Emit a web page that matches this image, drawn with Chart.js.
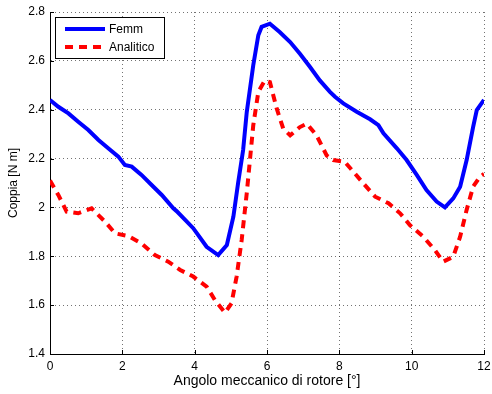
<!DOCTYPE html>
<html>
<head>
<meta charset="utf-8">
<script src="https://cdn.jsdelivr.net/npm/chart.js@4/dist/chart.umd.min.js"></script>
<style>
  html, body { margin: 0; padding: 0; background: #fff; }
  #wrap { width: 492px; height: 394px; position: relative; }
</style>
</head>
<body>
<div id="wrap"><canvas id="coppiaChart"></canvas></div>
<script>
// Values (angle in degrees, torque in N m)
const femmX = [0, 0.23, 0.51, 0.78, 1.06, 1.34, 1.61, 1.89, 2.07, 2.26, 2.53, 2.81, 3.09, 3.41, 3.5, 3.96, 4.33, 4.65, 4.89, 5.07, 5.2, 5.34, 5.44, 5.62, 5.76, 5.85, 6.08, 6.35, 6.64, 6.91, 7.19, 7.46, 7.74, 7.88, 8.11, 8.48, 8.85, 9.08, 9.22, 9.59, 9.86, 10.14, 10.41, 10.69, 10.92, 11.15, 11.34, 11.52, 11.7, 11.8, 12];
const femmY = [2.44, 2.412, 2.385, 2.351, 2.317, 2.276, 2.242, 2.208, 2.174, 2.167, 2.133, 2.092, 2.051, 1.996, 1.985, 1.915, 1.839, 1.805, 1.846, 1.962, 2.099, 2.235, 2.39, 2.582, 2.705, 2.739, 2.752, 2.718, 2.677, 2.629, 2.575, 2.52, 2.473, 2.453, 2.426, 2.392, 2.361, 2.337, 2.303, 2.242, 2.194, 2.133, 2.071, 2.024, 2.0, 2.037, 2.085, 2.194, 2.33, 2.399, 2.44];

const analX = [0, 0.23, 0.46, 0.78, 1.15, 1.52, 1.8, 2.16, 2.53, 2.9, 3.27, 3.6, 3.96, 4.33, 4.56, 4.84, 5.02, 5.16, 5.3, 5.44, 5.62, 5.76, 5.94, 6.08, 6.27, 6.45, 6.64, 6.91, 7.1, 7.37, 7.65, 7.83, 8.15, 8.66, 8.99, 9.36, 9.68, 9.95, 10.32, 10.64, 10.87, 11.15, 11.34, 11.52, 11.7, 11.89, 12];
const analY = [2.11, 2.051, 1.983, 1.976, 1.996, 1.942, 1.894, 1.883, 1.853, 1.805, 1.778, 1.744, 1.717, 1.676, 1.621, 1.569, 1.608, 1.717, 1.867, 2.058, 2.336, 2.473, 2.52, 2.513, 2.404, 2.322, 2.295, 2.329, 2.343, 2.295, 2.213, 2.194, 2.187, 2.099, 2.044, 2.017, 1.976, 1.928, 1.88, 1.826, 1.778, 1.798, 1.88, 1.99, 2.085, 2.126, 2.137];

const xTicks = [0, 2, 4, 6, 8, 10, 12];
const yTicks = [1.4, 1.6, 1.8, 2, 2.2, 2.4, 2.6, 2.8];

const FONT = "'Liberation Sans', Arial, sans-serif";

function toPoints(xs, ys) {
    return xs.map((x, i) => ({ x: x, y: ys[i] }));
}

// MATLAB-like legend box in the upper left corner
const boxLegend = {
    id: 'boxLegend',
    afterDraw(chart) {
        const ctx = chart.ctx;
        const x0 = 55, y0 = 17, w = 109, h = 41;
        ctx.save();
        ctx.fillStyle = '#fff';
        ctx.fillRect(x0, y0, w, h);
        ctx.strokeStyle = '#000';
        ctx.lineWidth = 1;
        ctx.strokeRect(x0 + 0.5, y0 + 0.5, w, h);

        ctx.lineWidth = 4;
        ctx.strokeStyle = '#0000ff';
        ctx.beginPath();
        ctx.moveTo(65, 29);
        ctx.lineTo(105, 29);
        ctx.stroke();

        ctx.strokeStyle = '#ff0000';
        ctx.setLineDash([8, 6]);
        ctx.beginPath();
        ctx.moveTo(65, 47);
        ctx.lineTo(105, 47);
        ctx.stroke();
        ctx.setLineDash([]);

        ctx.fillStyle = '#000';
        ctx.font = '12px ' + FONT;
        ctx.textBaseline = 'middle';
        ctx.fillText('Femm', 109, 30);
        ctx.fillText('Analitico', 109, 48);
        ctx.restore();
    }
};

// Small inward tick marks, like MATLAB axes
const innerTicks = {
    id: 'innerTicks',
    afterDatasetsDraw(chart) {
        const { ctx, chartArea, scales } = chart;
        ctx.save();
        ctx.strokeStyle = '#000';
        ctx.lineWidth = 1;
        ctx.beginPath();
        xTicks.forEach(v => {
            const px = Math.round(scales.x.getPixelForValue(v)) + 0.5;
            ctx.moveTo(px, chartArea.bottom);
            ctx.lineTo(px, chartArea.bottom - 4);
        });
        yTicks.forEach(v => {
            const py = Math.round(scales.y.getPixelForValue(v)) + 0.5;
            ctx.moveTo(chartArea.left, py);
            ctx.lineTo(chartArea.left + 4, py);
        });
        ctx.stroke();
        ctx.restore();
    }
};

function initChart() {
    const ctx = document.getElementById('coppiaChart').getContext('2d');

    Chart.defaults.font.family = FONT;
    Chart.defaults.font.size = 12;
    Chart.defaults.color = '#000';

    new Chart(ctx, {
        type: 'scatter',
        data: {
            datasets: [{
                label: 'Femm',
                data: toPoints(femmX, femmY),
                showLine: true,
                borderColor: '#0000ff',
                borderWidth: 4,
                pointRadius: 0,
                tension: 0
            }, {
                label: 'Analitico',
                data: toPoints(analX, analY),
                showLine: true,
                borderColor: '#ff0000',
                borderWidth: 4,
                borderDash: [8, 6],
                pointRadius: 0,
                tension: 0
            }]
        },
        options: {
            responsive: true,
            maintainAspectRatio: false,
            animation: false,
            layout: { autoPadding: false, padding: { top: 12, right: 8, left: 0, bottom: 0 } },
            plugins: {
                legend: { display: false },
                tooltip: { enabled: false }
            },
            scales: {
                x: {
                    type: 'linear',
                    min: 0,
                    max: 12,
                    afterFit: s => { s.height = 40; s.paddingLeft = 0; s.paddingRight = 0; },
                    afterBuildTicks: s => { s.ticks = xTicks.map(v => ({ value: v })); },
                    ticks: { padding: 5, maxRotation: 0, font: { size: 12 } },
                    grid: { color: 'rgba(0,0,0,0.55)', drawTicks: false, lineWidth: 1 },
                    border: { display: true, color: '#000', width: 1, dash: [1, 3] },
                    title: {
                        display: true,
                        text: 'Angolo meccanico di rotore [°]',
                        font: { size: 14 },
                        padding: { top: 0, bottom: 4 }
                    }
                },
                y: {
                    type: 'linear',
                    min: 1.4,
                    max: 2.8,
                    afterFit: s => { s.width = 50; s.paddingTop = 0; s.paddingBottom = 0; },
                    afterBuildTicks: s => { s.ticks = yTicks.map(v => ({ value: v })); },
                    ticks: {
                        padding: 5,
                        font: { size: 12 },
                        callback: v => String(Math.round(v * 10) / 10)
                    },
                    grid: { color: 'rgba(0,0,0,0.55)', drawTicks: false, lineWidth: 1 },
                    border: { display: true, color: '#000', width: 1, dash: [1, 3] },
                    title: {
                        display: true,
                        text: 'Coppia [N m]',
                        font: { size: 12 },
                        padding: { top: 6, bottom: 0 }
                    }
                }
            }
        },
        plugins: [innerTicks, boxLegend]
    });
}

document.addEventListener('DOMContentLoaded', initChart);
</script>
</body>
</html>
